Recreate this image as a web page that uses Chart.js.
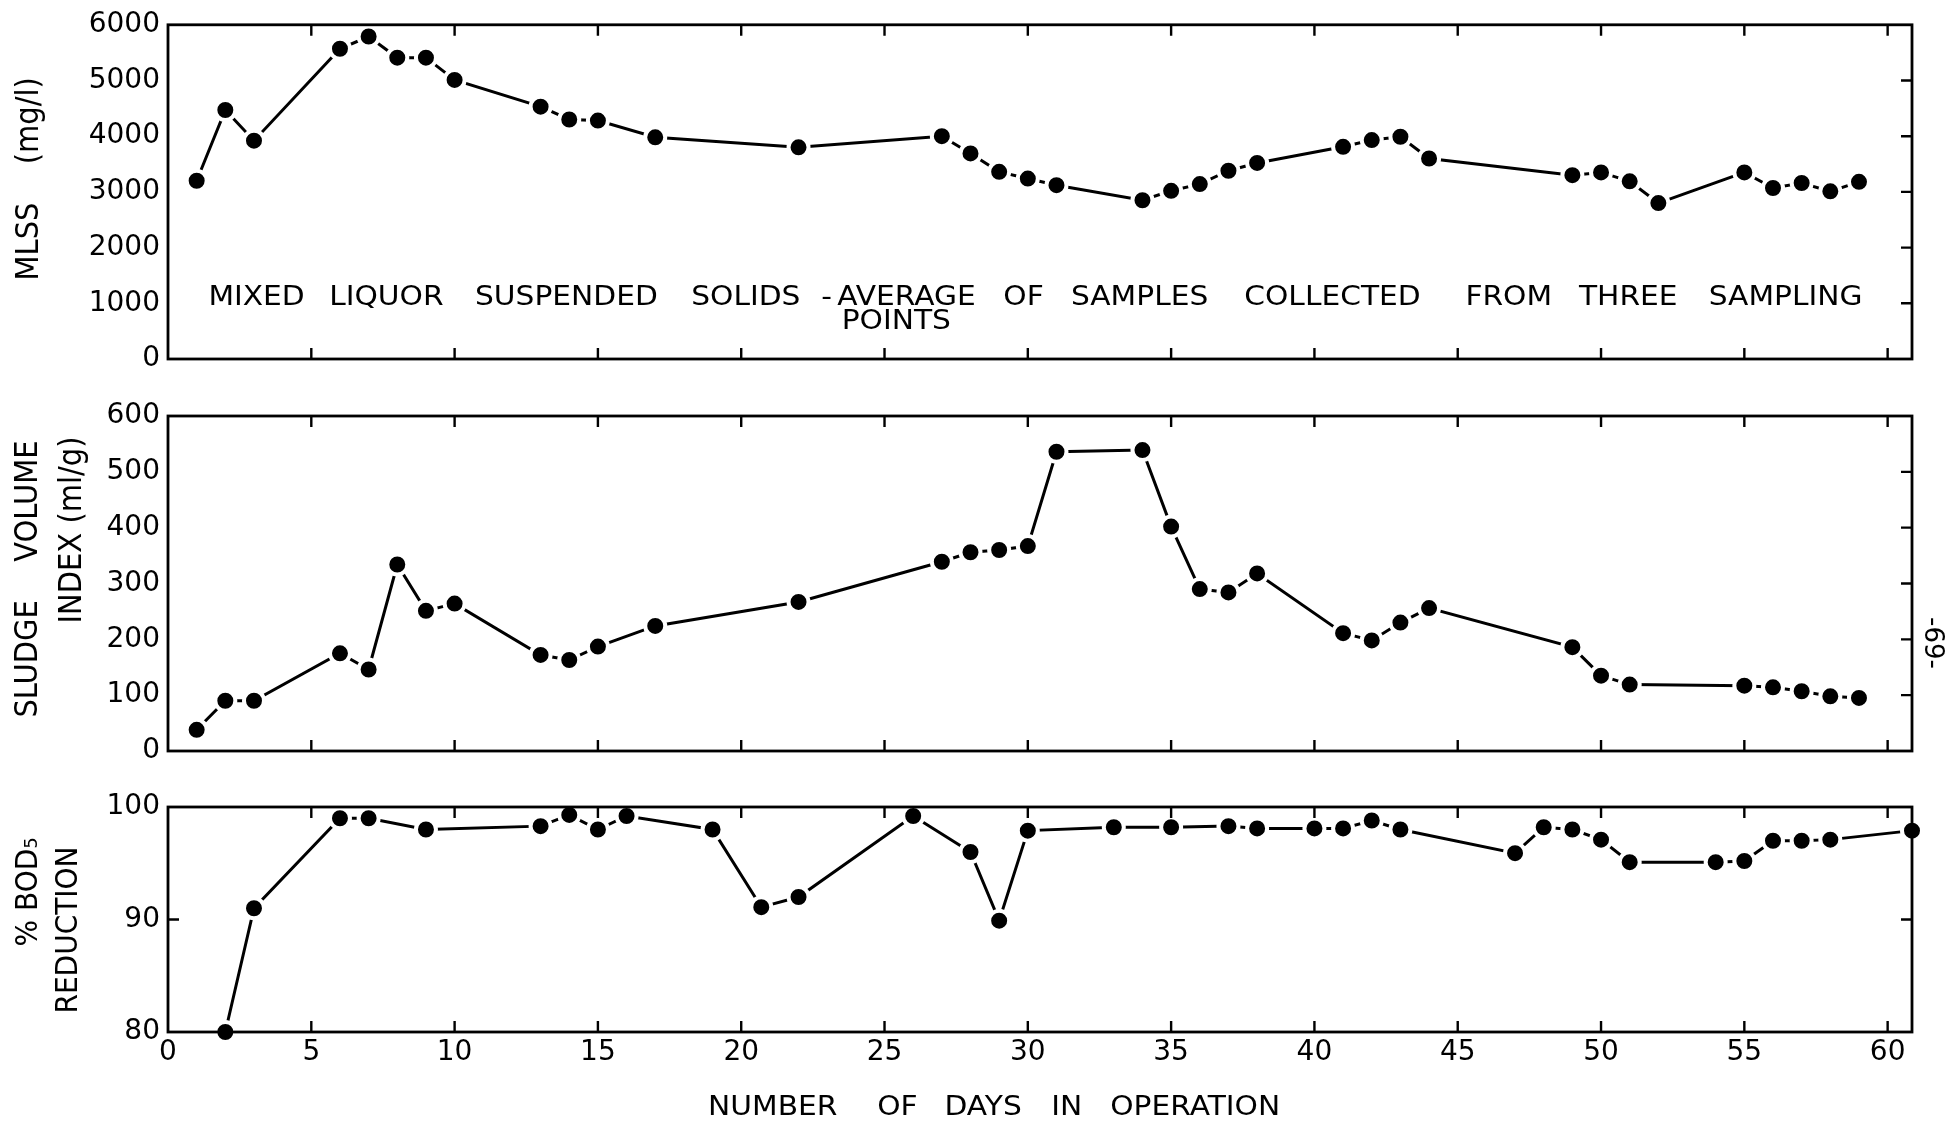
<!DOCTYPE html>
<html>
<head>
<meta charset="utf-8">
<script src="https://cdn.jsdelivr.net/npm/chart.js@4.4.1/dist/chart.umd.min.js"></script>
<style>
    html, body { margin: 0; padding: 0; background: #fff; }
    #wrap { position: relative; width: 1950px; height: 1125px; }
    #wrap canvas { position: absolute; left: 0; top: 0; }
</style>
</head>
<body>
<div id="wrap">
    <canvas id="mlssChart" width="1950" height="1125"></canvas>
    <canvas id="sviChart" width="1950" height="1125"></canvas>
    <canvas id="bodChart" width="1950" height="1125"></canvas>
</div>
<script>
// ---- data (x = day of operation) ----
const X_TICKS = [0, 5, 10, 15, 20, 25, 30, 35, 40, 45, 50, 55, 60];
const X_MAX = 60.85;

const MLSS_DAYS = [1, 2, 3, 6, 7, 8, 9, 10, 13, 14, 15, 17, 22, 27, 28, 29, 30, 31, 34, 35, 36, 37, 38, 41, 42, 43, 44, 49, 50, 51, 52, 55, 56, 57, 58, 59];
const MLSS = [3200, 4470, 3920, 5570, 5790, 5410, 5410, 5010, 4530, 4300, 4280, 3980, 3800, 4000, 3690, 3360, 3240, 3120, 2850, 3020, 3140, 3380, 3520, 3810, 3930, 3990, 3600, 3300, 3350, 3190, 2800, 3350, 3070, 3160, 3010, 3180];
const MLSS_TICKS = [0, 1000, 2000, 3000, 4000, 5000, 6000];

const SVI_DAYS = [1, 2, 3, 6, 7, 8, 9, 10, 13, 14, 15, 17, 22, 27, 28, 29, 30, 31, 34, 35, 36, 37, 38, 41, 42, 43, 44, 49, 50, 51, 55, 56, 57, 58, 59];
const SVI = [38, 90, 90, 175, 146, 334, 251, 264, 172, 163, 187, 224, 267, 339, 356, 360, 367, 536, 539, 402, 290, 284, 318, 211, 198, 230, 256, 186, 135, 119, 117, 114, 107, 98, 95];
const SVI_TICKS = [0, 100, 200, 300, 400, 500, 600];

const BOD_DAYS = [2, 3, 6, 7, 9, 13, 14, 15, 16, 19, 20.7, 22, 26, 28, 29, 30, 33, 35, 37, 38, 40, 41, 42, 43, 47, 48, 49, 50, 51, 54, 55, 56, 57, 58, 60.85];
const BOD = [80, 91.0, 99.0, 99.0, 98.0, 98.3, 99.3, 98.0, 99.2, 98.0, 91.1, 92.0, 99.2, 96.0, 89.9, 97.9, 98.2, 98.2, 98.3, 98.1, 98.1, 98.1, 98.8, 98.0, 95.9, 98.2, 98.0, 97.1, 95.1, 95.1, 95.2, 97.0, 97.0, 97.1, 97.9];
const BOD_TICKS = [80, 90, 100];

// ---- layout ----
const PAGE_W = 1950, PAGE_H = 1125;
const PLOT_LEFT = 168, PLOT_RIGHT = 1912;
const Y_AXIS_W = 120, X_AXIS_H = 44;
const FONT = "'DejaVu Sans', sans-serif";

function drawWord(ctx, text, x, y, o) {
    ctx.save();
    ctx.translate(x, y);
    ctx.scale(o.sx || 1, 1);
    if (o.rot) ctx.rotate(o.rot);
    ctx.font = (o.size || 27) + "px " + FONT;
    ctx.textAlign = o.align || "center";
    ctx.textBaseline = "middle";
    ctx.fillStyle = "#000";
    ctx.fillText(text, 0, 0);
    ctx.restore();
}

// frame with inward tick marks, like the original plot
function framePlugin(leftTicks) {
    return {
        id: "frame",
        afterDraw(chart) {
            const { ctx, chartArea: a, scales: { x, y } } = chart;
            const len = 11;
            ctx.save();
            ctx.strokeStyle = "#000";
            ctx.lineWidth = 2.8;
            ctx.strokeRect(a.left, a.top, a.right - a.left, a.bottom - a.top);
            ctx.lineWidth = 2.4;
            ctx.beginPath();
            x.ticks.forEach(t => {
                const px = x.getPixelForValue(t.value);
                if (px <= a.left + 1 || px >= a.right - 1) return;
                ctx.moveTo(px, a.top); ctx.lineTo(px, a.top + len);
                ctx.moveTo(px, a.bottom); ctx.lineTo(px, a.bottom - len);
            });
            y.ticks.forEach(t => {
                const py = y.getPixelForValue(t.value);
                if (py <= a.top + 1 || py >= a.bottom - 1) return;
                ctx.moveTo(a.right, py); ctx.lineTo(a.right - len, py);
                if (leftTicks) { ctx.moveTo(a.left, py); ctx.lineTo(a.left + len, py); }
            });
            ctx.stroke();
            ctx.restore();
        }
    };
}

// free text: words placed by day (x) / value (y) or by offset from the plot box
function textPlugin(items) {
    return {
        id: "notes",
        afterDraw(chart) {
            const { ctx, chartArea: a, scales: { x, y } } = chart;
            items.forEach(it => {
                const px = it.day !== undefined ? x.getPixelForValue(it.day) : a.left + it.dx;
                const py = it.val !== undefined ? y.getPixelForValue(it.val) : a.top + it.dy;
                drawWord(ctx, it.text, px, py, it);
            });
        }
    };
}

function makeChart(id, days, values, yTicks, top, bottom, showX, items, leftTicks) {
    const xH = showX ? X_AXIS_H : 0;
    return new Chart(document.getElementById(id), {
        type: "line",
        data: {
            datasets: [{
                data: days.map((d, i) => ({ x: d, y: values[i] })),
                borderColor: "#000",
                borderWidth: 3,
                tension: 0,
                pointRadius: 10,
                pointBackgroundColor: "#000",
                pointBorderColor: "#fff",
                pointBorderWidth: 4,
                clip: false
            }]
        },
        options: {
            responsive: false,
            animation: false,
            events: [],
            layout: {
                padding: {
                    left: PLOT_LEFT - Y_AXIS_W,
                    right: PAGE_W - PLOT_RIGHT,
                    top: top,
                    bottom: PAGE_H - bottom - xH
                }
            },
            scales: {
                x: {
                    type: "linear",
                    min: 0,
                    max: X_MAX,
                    afterBuildTicks: s => { s.ticks = X_TICKS.map(v => ({ value: v })); },
                    afterFit: s => { s.height = xH; },
                    grid: { display: false, drawTicks: false },
                    border: { display: false },
                    ticks: {
                        display: showX,
                        padding: 4,
                        maxRotation: 0,
                        autoSkip: false,
                        color: "#000",
                        font: { family: FONT, size: 28 },
                        callback: v => String(v)
                    }
                },
                y: {
                    min: yTicks[0],
                    max: yTicks[yTicks.length - 1],
                    afterBuildTicks: s => { s.ticks = yTicks.map(v => ({ value: v })); },
                    afterFit: s => { s.width = Y_AXIS_W; },
                    grid: { display: false, drawTicks: false },
                    border: { display: false },
                    ticks: {
                        padding: 8,
                        autoSkip: false,
                        color: "#000",
                        font: { family: FONT, size: 28 },
                        callback: v => String(v)
                    }
                }
            },
            plugins: { legend: { display: false }, tooltip: { enabled: false } }
        },
        plugins: [framePlugin(leftTicks), textPlugin(items)]
    });
}

const UP = -Math.PI / 2;

// top panel: MLSS
const mlssNote = [
    ["MIXED", 3.09], ["LIQUOR", 7.62], ["SUSPENDED", 13.9], ["SOLIDS", 20.16], ["-", 22.98],
    ["AVERAGE", 25.77], ["OF", 29.85], ["SAMPLES", 33.9], ["COLLECTED", 40.63], ["FROM", 46.78],
    ["THREE", 50.95], ["SAMPLING", 56.44]
].map(([t, d]) => ({ text: t, day: d, val: 1088, sx: 1.1 }));
mlssNote.push({ text: "POINTS", day: 25.41, val: 665, sx: 1.1 });
mlssNote.push({ text: "MLSS\u2003 (mg/l)", dx: -138, dy: 154, rot: UP, size: 29, sx: 1.1 });

makeChart("mlssChart", MLSS_DAYS, MLSS, MLSS_TICKS, 23, 359, false, mlssNote, false);

// middle panel: SVI
makeChart("sviChart", SVI_DAYS, SVI, SVI_TICKS, 416, 751, false, [
    { text: "SLUDGE\u2003 VOLUME", dx: -139, dy: 163, rot: UP, size: 29, sx: 1.1 },
    { text: "INDEX (ml/g)", dx: -95, dy: 114, rot: UP, size: 29, sx: 1.1 },
    { text: "-69-", dx: PLOT_RIGHT - PLOT_LEFT + 20, dy: 227, rot: Math.PI / 2, size: 26 }
], false);

// bottom panel: BOD5 reduction
const bodNote = [
    ["NUMBER", 21.1], ["OF", 25.45], ["DAYS", 28.44], ["IN", 31.36], ["OPERATION", 35.84]
].map(([t, d]) => ({ text: t, day: d, dy: 301, sx: 1.1 }));
bodNote.push({ text: "% BOD\u2085", dx: -139, dy: 85, rot: UP, size: 28, sx: 1.1 });
bodNote.push({ text: "REDUCTION", dx: -99, dy: 123, rot: UP, size: 28, sx: 1.1 });

makeChart("bodChart", BOD_DAYS, BOD, BOD_TICKS, 807, 1032, true, bodNote, true);
</script>
</body>
</html>
